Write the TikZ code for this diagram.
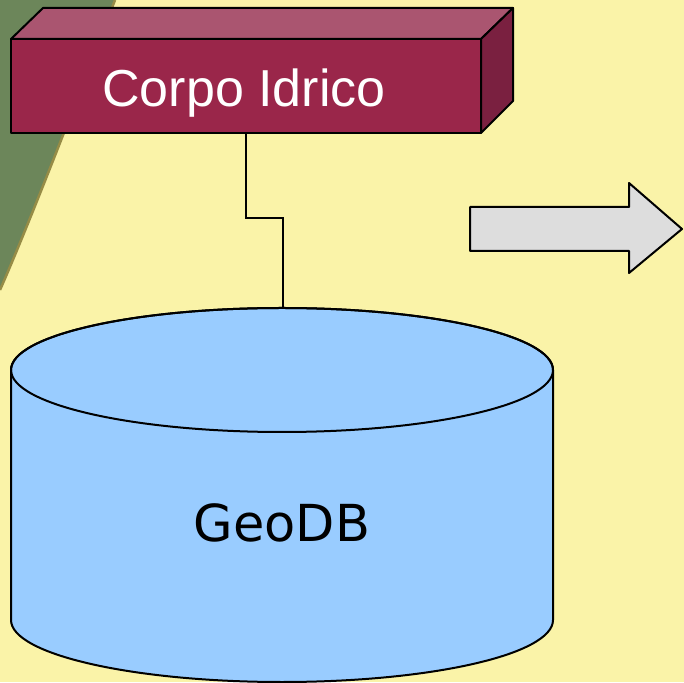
\documentclass[tikz,border=0pt]{standalone}
\usepackage{fontspec}
\setmainfont{Liberation Sans}
\newfontfamily\dvsans{DejaVu Sans}
\definecolor{bgyellow}{RGB}{250,243,168}
\definecolor{bggreen}{RGB}{108,134,90}
\definecolor{greenedge}{RGB}{150,140,70}
\definecolor{boxfront}{RGB}{154,38,74}
\definecolor{boxtop}{RGB}{170,85,112}
\definecolor{boxside}{RGB}{122,32,64}
\definecolor{dbblue}{RGB}{153,204,255}
\definecolor{arrowgray}{RGB}{221,221,221}
\tikzset{
  outline/.style={draw=black, line width=2pt, line join=round},
  boxface/.style={outline, fill=boxfront, minimum width=470pt, minimum height=94pt, inner sep=0pt},
  boxtext/.style={text=white, font=\fontsize{52}{60}\selectfont, inner sep=0pt, anchor=base},
  dblabel/.style={font=\dvsans\fontsize{51}{60}\selectfont, text=black, inner sep=0pt, anchor=base},
  wire/.style={draw=black, line width=1.5pt}
}
\begin{document}
\begin{tikzpicture}[x=1pt,y=1pt]
\useasboundingbox (0,0) rectangle (684,682);
\fill[bgyellow] (0,0) rectangle (684,682);
\fill[bggreen] (0,682) -- (115,682) .. controls (80,590) and (30,460) .. (0,392) -- cycle;
\draw[greenedge, line width=2.5pt] (115,682) .. controls (80,590) and (30,460) .. (0,392);
% box
\draw[outline, fill=boxtop] (11,643) -- (43,674) -- (513,674) -- (481,643) -- cycle;
\draw[outline, fill=boxside] (481,643) -- (513,674) -- (513,581) -- (481,549) -- cycle;
\node[boxface] (box) at (246,596) {};
\node[boxtext] (boxlabel) at (244,575) {Corpo Idrico};
% cylinder
\draw[outline, fill=dbblue] (11,312) -- (11,62) arc (180:360:271 and 62) -- (553,312) arc (0:180:271 and 62) -- cycle;
\draw[outline] (282,312) ellipse (271 and 62);
\coordinate (dbtop) at (283,374);
\node[dblabel] (db) at (282,140) {GeoDB};
% connector
\draw[wire] (box.south) -- (246,464) -| (dbtop);
% arrow
\draw[outline, fill=arrowgray] (470,475) -- (629,475) -- (629,499) -- (682,453) -- (629,409) -- (629,431) -- (470,431) -- cycle;
\end{tikzpicture}
\end{document}
